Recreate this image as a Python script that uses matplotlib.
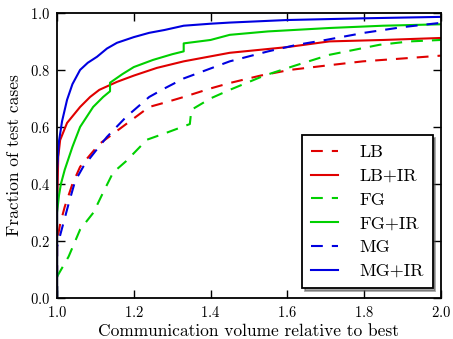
import matplotlib
matplotlib.use('Agg')
import matplotlib.pyplot as plt

plt.rcParams['font.family'] = ['cmr10', 'DejaVu Serif']
plt.rcParams['axes.formatter.use_mathtext'] = True
plt.rcParams['lines.scale_dashes'] = False

# fraction of test cases vs. communication volume relative to best
lb_x = [1.0, 1.0, 1.008, 1.02, 1.04, 1.06, 1.11, 1.15, 1.18, 1.24, 1.28, 1.33, 1.4, 1.45, 1.53, 1.607, 1.7, 1.797, 1.9, 2.0]
lb_y = [0.0, 0.2, 0.26, 0.32, 0.40, 0.46, 0.54, 0.58, 0.61, 0.67, 0.685, 0.705, 0.735, 0.754, 0.78, 0.80, 0.815, 0.83, 0.84, 0.85]

lbir_x = [1.0, 1.0, 1.003, 1.008, 1.026, 1.06, 1.086, 1.11, 1.156, 1.2, 1.26, 1.33, 1.45, 1.6, 1.71, 1.85, 2.0]
lbir_y = [0.0, 0.3, 0.495, 0.554, 0.614, 0.67, 0.705, 0.73, 0.758, 0.78, 0.807, 0.83, 0.86, 0.88, 0.90, 0.905, 0.912]

fg_x = [1.0, 1.0, 1.03, 1.06, 1.095, 1.12, 1.146, 1.18, 1.234, 1.286, 1.346, 1.35, 1.4, 1.45, 1.54, 1.62, 1.71, 1.84, 1.92, 2.0]
fg_y = [0.0, 0.075, 0.145, 0.24, 0.30, 0.37, 0.44, 0.48, 0.555, 0.58, 0.61, 0.66, 0.70, 0.73, 0.78, 0.815, 0.853, 0.888, 0.90, 0.905]

fgir_x = [1.0, 1.0, 1.005, 1.01, 1.02, 1.04, 1.06, 1.094, 1.12, 1.138, 1.138, 1.17, 1.2, 1.25, 1.3, 1.33, 1.33, 1.4, 1.45, 1.55, 1.71, 1.85, 2.0]
fgir_y = [0.0, 0.3, 0.36, 0.40, 0.45, 0.53, 0.60, 0.67, 0.705, 0.725, 0.755, 0.785, 0.81, 0.835, 0.855, 0.865, 0.893, 0.905, 0.923, 0.935, 0.947, 0.955, 0.96]

mg_x = [1.0, 1.0, 1.016, 1.03, 1.047, 1.068, 1.1, 1.13, 1.18, 1.24, 1.28, 1.33, 1.4, 1.45, 1.55, 1.625, 1.7, 1.8, 1.9, 2.0]
mg_y = [0.0, 0.18, 0.26, 0.33, 0.41, 0.46, 0.515, 0.565, 0.635, 0.705, 0.735, 0.77, 0.805, 0.83, 0.865, 0.888, 0.905, 0.93, 0.95, 0.965]

mgir_x = [1.0, 1.0, 1.005, 1.013, 1.026, 1.04, 1.06, 1.08, 1.104, 1.13, 1.156, 1.2, 1.24, 1.28, 1.33, 1.4, 1.45, 1.6, 1.8, 2.0]
mgir_y = [0.0, 0.45, 0.55, 0.62, 0.695, 0.75, 0.80, 0.825, 0.846, 0.875, 0.895, 0.915, 0.93, 0.94, 0.955, 0.962, 0.966, 0.975, 0.981, 0.986]

red = '#e00000'
green = '#00d000'
blue = '#0000e0'
dash = (8.5, 6.5)

fig = plt.figure(figsize=(4.53, 3.39), dpi=100)
ax = fig.add_axes([0.126, 0.121, 0.847, 0.841])

ax.plot(lb_x, lb_y, color=red, lw=1.5, dashes=dash, label='LB')
ax.plot(lbir_x, lbir_y, color=red, lw=1.5, label='LB+IR')
ax.plot(fg_x, fg_y, color=green, lw=1.5, dashes=dash, label='FG')
ax.plot(fgir_x, fgir_y, color=green, lw=1.5, label='FG+IR')
ax.plot(mg_x, mg_y, color=blue, lw=1.5, dashes=dash, label='MG')
ax.plot(mgir_x, mgir_y, color=blue, lw=1.5, label='MG+IR')

ax.set_xlim(1.0, 2.0)
ax.set_ylim(0.0, 1.0)
ax.set_xticks([1.0, 1.2, 1.4, 1.6, 1.8, 2.0])
ax.set_yticks([0.0, 0.2, 0.4, 0.6, 0.8, 1.0])
ax.tick_params(direction='in', top=True, right=True, length=6, width=1, labelsize=10.5, pad=5)
for s in ax.spines.values():
    s.set_linewidth(1.3)

ax.set_xlabel('Communication volume relative to best', fontsize=12.5, labelpad=3)
ax.set_ylabel('Fraction of test cases', fontsize=12.5, labelpad=6)

leg = ax.legend(loc='lower right', bbox_to_anchor=(0.979, 0.035), borderaxespad=0,
                fontsize=13, shadow=True, fancybox=False, framealpha=1,
                handlelength=1.45, labelspacing=0.45, handletextpad=1.2, borderpad=0.5)
leg.get_frame().set_edgecolor('black')
leg.get_frame().set_linewidth(1.3)

fig.savefig('out.png', dpi=100)
